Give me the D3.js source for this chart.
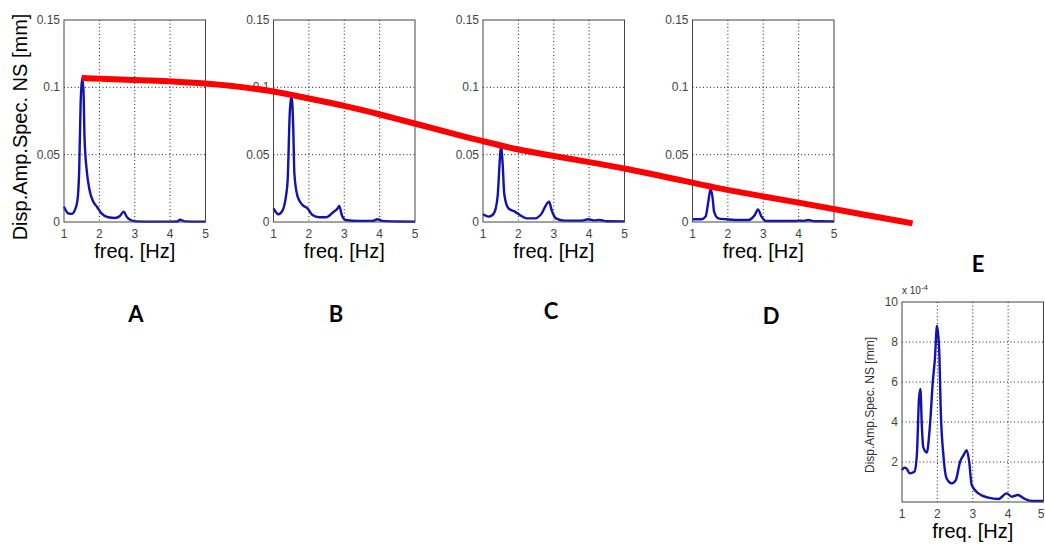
<!DOCTYPE html>
<html>
<head>
<meta charset="utf-8">
<script src="https://cdn.jsdelivr.net/npm/d3@7"></script>
<style>
  body { margin: 0; background: #fff; }
  svg { display: block; }
</style>
</head>
<body>
<script>
// spectra: [freq Hz, amplitude]
const specA = [[1.00,0.0114],[1.12,0.0064],[1.22,0.0060],[1.31,0.0090],[1.38,0.0160],[1.43,0.0390],[1.47,0.0880],[1.51,0.1070],[1.55,0.0980],[1.58,0.0630],[1.64,0.0390],[1.72,0.0240],[1.83,0.0150],[1.94,0.0110],[2.06,0.0064],[2.25,0.0035],[2.44,0.0030],[2.58,0.0045],[2.69,0.0077],[2.77,0.0040],[2.88,0.0015],[3.05,0.0005],[3.50,0.0003],[4.00,0.0003],[4.20,0.0004],[4.28,0.0017],[4.42,0.0005],[5.00,0.0003]];
const specB = [[1.00,0.0101],[1.14,0.0057],[1.25,0.0082],[1.35,0.0188],[1.40,0.0310],[1.46,0.0810],[1.51,0.0940],[1.56,0.0680],[1.59,0.0360],[1.68,0.0190],[1.82,0.0126],[1.96,0.0101],[2.10,0.0052],[2.29,0.0035],[2.48,0.0035],[2.67,0.0069],[2.81,0.0101],[2.86,0.0119],[2.93,0.0052],[3.04,0.0015],[3.40,0.0008],[3.80,0.0008],[3.94,0.0020],[4.08,0.0008],[4.50,0.0004],[5.00,0.0003]];
const specC = [[1.00,0.0057],[1.15,0.0040],[1.27,0.0052],[1.36,0.0101],[1.42,0.0210],[1.47,0.0440],[1.51,0.0570],[1.56,0.0410],[1.60,0.0210],[1.72,0.0101],[1.90,0.0077],[2.04,0.0052],[2.23,0.0027],[2.47,0.0027],[2.66,0.0064],[2.80,0.0134],[2.87,0.0150],[2.94,0.0089],[3.06,0.0027],[3.30,0.0010],[3.80,0.0010],[3.98,0.0020],[4.15,0.0012],[4.30,0.0015],[4.50,0.0006],[5.00,0.0005]];
const specD = [[1.00,0.0020],[1.25,0.0020],[1.37,0.0040],[1.44,0.0139],[1.51,0.0243],[1.57,0.0176],[1.61,0.0077],[1.73,0.0027],[1.96,0.0020],[2.20,0.0015],[2.57,0.0015],[2.76,0.0052],[2.85,0.0094],[2.95,0.0040],[3.09,0.0007],[3.50,0.0007],[3.89,0.0007],[4.00,0.0010],[4.15,0.0008],[4.27,0.0015],[4.45,0.0006],[5.00,0.0005]];
// E is in units of 1e-4 mm
const specE = [[1.00,1.59],[1.06,1.72],[1.13,1.67],[1.22,1.43],[1.35,1.51],[1.42,2.34],[1.48,5.16],[1.52,5.65],[1.56,3.83],[1.60,2.75],[1.70,2.47],[1.79,3.83],[1.87,5.99],[1.93,7.15],[1.99,8.81],[2.05,7.65],[2.10,4.33],[2.17,2.34],[2.26,1.18],[2.41,0.93],[2.52,1.09],[2.64,2.00],[2.74,2.34],[2.83,2.59],[2.90,2.00],[2.97,0.85],[3.16,0.43],[3.44,0.22],[3.73,0.15],[3.96,0.43],[4.10,0.27],[4.27,0.35],[4.48,0.15],[4.67,0.05],[5.00,0.05]];

// red trend across panels A-D: [panel index, freq position, amplitude]
const trend = [[0,1.50,0.1069],[0,3.50,0.1050],[0,5.13,0.1030],[1,1.01,0.0975],[1,2.00,0.0915],[1,3.00,0.0865],[1,4.00,0.0800],[1,5.09,0.0725],[2,0.15,0.0655],[2,1.00,0.0600],[2,2.00,0.0535],[2,3.00,0.0490],[2,4.00,0.0445],[2,5.02,0.0399],[3,0.87,0.0299],[3,2.00,0.0235],[3,3.00,0.0190],[3,4.00,0.0145],[3,5.02,0.0094],[3,7.22,-0.0010]];

const xTicks = [1, 2, 3, 4, 5];
const yTicksAD = [0, 0.05, 0.1, 0.15];
const yTicksE = [2, 4, 6, 8, 10];
const panelLetters = ["A", "B", "C", "D", "E"];

const width = 1045, height = 545;
const svg = d3.select("body").append("svg")
  .attr("width", width).attr("height", height);

const pw = 141.5;          // plot width
const left0 = 64, step = 209.5;
const font = "'Liberation Sans', Arial, sans-serif";

function panel(i, y0, h, data, yDomain, yTicks, yFmt) {
  const x = d3.scaleLinear().domain([1, 5]).range([0, pw]);
  const y = d3.scaleLinear().domain(yDomain).range([h, 0]);
  const px = left0 + i * step;
  const g = svg.append("g").attr("transform", `translate(${px},${y0})`);

  // grid
  g.selectAll(".gx").data(xTicks.slice(1, -1)).enter().append("line")
    .attr("x1", d => x(d)).attr("x2", d => x(d))
    .attr("y1", 0).attr("y2", h)
    .attr("stroke", "#222").attr("stroke-dasharray", "1,2.5");
  g.selectAll(".gy").data(yTicks.filter(d => d > yDomain[0] && d < yDomain[1])).enter().append("line")
    .attr("x1", 0).attr("x2", pw)
    .attr("y1", d => y(d)).attr("y2", d => y(d))
    .attr("stroke", "#222").attr("stroke-dasharray", "1,2.5");

  // tick labels (keep the last one inside the page)
  g.selectAll(".tx").data(xTicks).enter().append("text")
    .attr("x", d => Math.min(x(d), width - px - 4)).attr("y", h + 16)
    .attr("text-anchor", "middle")
    .style("font", `12px ${font}`).attr("fill", "#444")
    .text(d => d);
  g.selectAll(".ty").data(yTicks).enter().append("text")
    .attr("x", -4).attr("y", d => y(d) + 4)
    .attr("text-anchor", "end")
    .style("font", `12px ${font}`).attr("fill", "#444")
    .text(yFmt);

  // spectrum
  const line = d3.line().x(d => x(d[0])).y(d => y(d[1])).curve(d3.curveMonotoneX);
  g.append("path").datum(data)
    .attr("d", line)
    .attr("fill", "none")
    .attr("stroke", "#1212b0")
    .attr("stroke-width", 2.4)
    .attr("stroke-linejoin", "round");

  // box
  g.append("rect").attr("width", pw).attr("height", h)
    .attr("fill", "none").attr("stroke", "#444").attr("stroke-width", 1);

  // x label
  g.append("text")
    .attr("x", pw / 2).attr("y", h + 36)
    .attr("text-anchor", "middle")
    .style("font", `20px ${font}`).attr("fill", "#000")
    .text("freq. [Hz]");

  return g;
}

const specs = [specA, specB, specC, specD];
const topAD = 20, hAD = 202;
specs.forEach((s, i) => {
  panel(i, topAD, hAD, s, [0, 0.15], yTicksAD, d => d);
});

// y label for A
svg.append("text")
  .attr("transform", `translate(27,${topAD + hAD / 2 + 6}) rotate(-90)`)
  .attr("text-anchor", "middle")
  .style("font", `20px ${font}`)
  .text("Disp.Amp.Spec. NS [mm]");

// panel E
const topE = 302, hE = 200;
const gE = panel(4, topE, hE, specE, [0, 10], yTicksE, d => d);
svg.append("text")
  .attr("transform", `translate(874,${topE + hE / 2 + 3}) rotate(-90)`)
  .attr("text-anchor", "middle")
  .style("font", `12px ${font}`).attr("fill", "#333")
  .text("Disp.Amp.Spec. NS [mm]");
const expo = gE.append("text").attr("x", 0).attr("y", -8)
  .style("font", `10px ${font}`).attr("fill", "#333");
expo.append("tspan").text("x 10");
expo.append("tspan").attr("dy", -4).style("font-size", "8px").text("-4");

// red trend line across A-D
const trendX = d => left0 + d[0] * step + (d[1] - 1) / 4 * pw;
const yAmp = d3.scaleLinear().domain([0, 0.15]).range([topAD + hAD, topAD]);
svg.append("path").datum(trend)
  .attr("d", d3.line().x(trendX).y(d => yAmp(d[2])).curve(d3.curveBasis))
  .attr("fill", "none")
  .attr("stroke", "#ff0000")
  .attr("stroke-width", 6);

// letters
const letterPos = [[136, 322], [336, 322], [551, 319], [771, 324], [978, 272]];
svg.selectAll(".letter").data(panelLetters).enter().append("text")
  .attr("x", (d, i) => letterPos[i][0])
  .attr("y", (d, i) => letterPos[i][1])
  .attr("text-anchor", "middle")
  .style("font", "bold 22px Lato, 'Open Sans', sans-serif")
  .text(d => d);
</script>
</body>
</html>
